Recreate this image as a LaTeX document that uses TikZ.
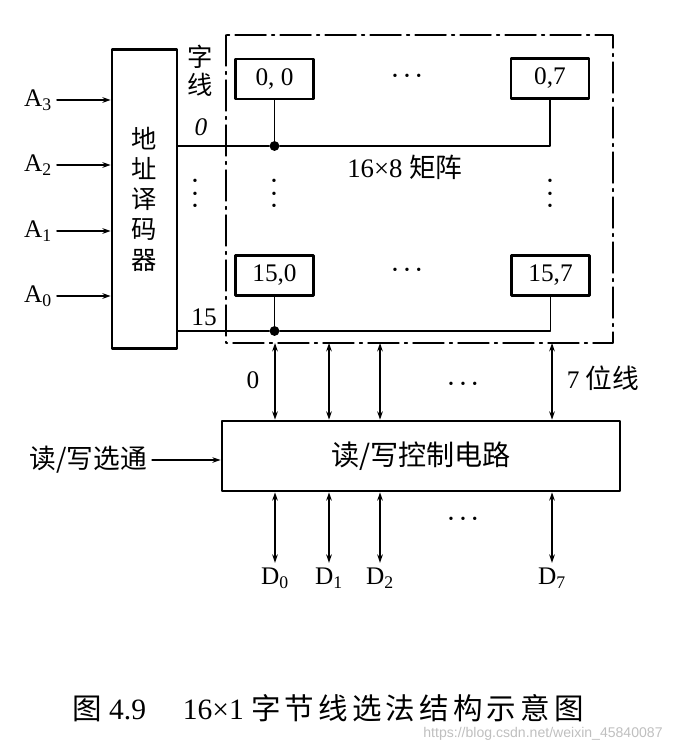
\documentclass[tikz,border=0pt]{standalone}
\usepackage{fontspec}
\setmainfont{Liberation Serif}
\newfontfamily\cjk{Noto Sans CJK SC}
\newfontfamily\wmfont{Liberation Sans}
\usetikzlibrary{arrows.meta,positioning}
\tikzset{
    memfig/.style={
        x=0.025cm, y=-0.025cm,
        >={Stealth[length=6pt,width=4pt]},
        line cap=round, line join=round,
        font=\fontsize{18}{20}\selectfont,
    },
    thickbox/.style={draw,line width=1.8pt,inner sep=0pt},
    wire/.style={line width=0.8pt},
    stub/.style={line width=1.3pt},
    busline/.style={line width=1.2pt,<->},
    junction/.style={circle,fill,inner sep=0pt,minimum size=7pt},
    matrixframe/.style={line width=1pt,dash pattern=on 22pt off 4pt on 2pt off 4pt},
    coldots/.style={align=center,inner sep=0pt,font=\fontsize{10}{9}\selectfont},
}
\newcommand{\cn}[1]{{\cjk\fontsize{19}{21}\selectfont #1}}
\newcommand{\rowdots}{{\fontsize{10}{10}\selectfont •\hspace{5pt}•\hspace{5pt}•}}
\newcommand{\memcell}[3]{% \memcell{name}{position}{label}
    \node[thickbox,minimum width=1.95cm,minimum height=1cm] (#1) at (#2) {#3}
}
\begin{document}
\begin{tikzpicture}[memfig]
\useasboundingbox (0,0) rectangle (682,754);
% address decoder and its inputs
\node[thickbox,minimum width=1.625cm,minimum height=7.475cm,align=center,
      font=\cjk\fontsize{18}{21.5}\selectfont] (dec) at (144.5,199) {地\\址\\译\\码\\器};
\foreach \n/\y in {3/100,2/165,1/231,0/296} {
    \node (a\n) at (38,\y) {A\textsubscript{\n}};
    \draw[wire,->] (a\n.east) -- (dec.west |- a\n);
}
% 16x8 matrix
\draw[matrixframe] (226,35) rectangle (613,343);
\memcell{c00}{274.5,79}{0, 0};
\memcell{c07}{550,78.5}{0,7};
\memcell{c150}{274.5,275.5}{15,0};
\memcell{c157}{550.5,275.5}{15,7};
\node[junction] (j0) at (274.5,146) {};
\node[junction] (j15) at (274.5,331) {};
\draw[wire] (dec.east |- j0) -- (j0) -- (c07.south |- j0) -- (c07.south);
\draw[wire] (dec.east |- j15) -- (j15) -- (c157.south |- j15) -- (c157.south);
\draw[stub] (c00.south) -- (j0);
\draw[stub] (c150.south) -- (j15);
\node[align=center,font=\cjk\fontsize{18}{20}\selectfont] (wordlbl) at (200,71) {字\\线};
\node (w0lbl) at (201,127) {\textit{0}};
\node (w15lbl) at (204,317) {15};
\node[font=\fontsize{19}{21}\selectfont] (mlabel) at (405,167) {16×8 \cn{矩阵}};
\node (rdots0) at (407,77) {\rowdots};
\node (rdots15) at (407,271) {\rowdots};
\foreach \x in {195,274,550} \node[coldots] at (\x,195) {•\\•\\•};
% read/write control
\node[thickbox,minimum width=9.95cm,minimum height=1.75cm,
      font=\cjk\fontsize{20}{22}\selectfont] (ctl) at (421,456) {读/写控制电路};
\node[anchor=east] (rw) at (152,460) {\cn{读/写选通}};
\draw[wire,->] (rw.east) -- (ctl.west |- rw);
\foreach \n/\x in {0/275,1/329,2/380,7/552} {
    \coordinate (b\n) at (\x,343);
    \node (d\n) at (\x,578) {D\textsubscript{\n}};
    \draw[busline] (b\n) -- (b\n |- ctl.north);
    \draw[busline] (ctl.south -| d\n) -- (d\n.north);
}
\node (bl0) at (253,380) {0};
\node[anchor=west] (bl7) at (562,378) {7 \cn{位线}};
\node (bdots) at (463,385) {\rowdots};
\node (ddots) at (463,520) {\rowdots};
% caption
\node[font=\fontsize{21}{24}\selectfont] (cap) at (328,708)
    {{\cjk 图} 4.9\quad\ 16×1 {\cjk\addfontfeature{LetterSpace=14}字节线选法结构示意图}};
\node[text=black!25,font=\wmfont\fontsize{10}{12}\selectfont] (wm) at (543,734)
    {https://blog.csdn.net/weixin\_45840087};
\end{tikzpicture}
\end{document}
